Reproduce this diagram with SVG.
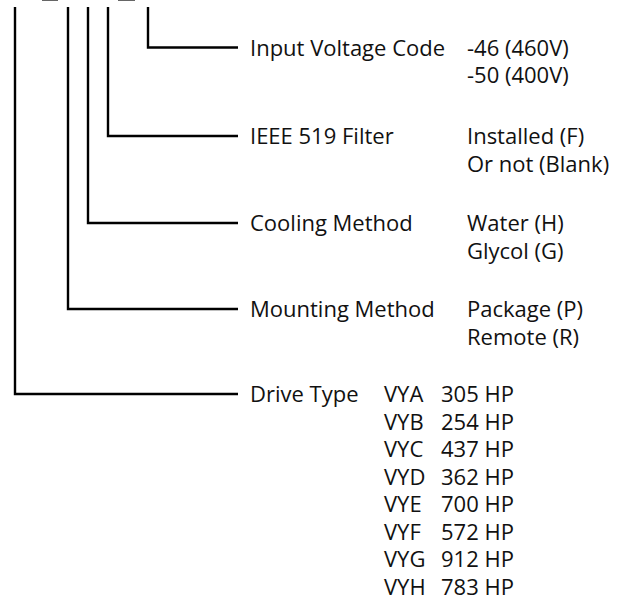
<svg xmlns="http://www.w3.org/2000/svg" width="629" height="607" viewBox="0 0 629 607">
<style>
.t{font-family:"Open Sans","Noto Sans","DejaVu Sans",sans-serif;font-size:22px;fill:#111}
.c{fill:none;stroke:#000;stroke-width:2.4;stroke-linecap:butt;stroke-linejoin:miter}
</style>
<rect width="629" height="607" fill="#fff"/>
<g id="top-marks" fill="#666">
<rect x="42" y="0" width="16" height="1"/>
<rect x="118" y="0" width="17" height="1"/>
</g>
<g id="connectors">
<path class="c" d="M148 7 V47.5 H238"/>
<path class="c" d="M108 7 V136 H238"/>
<path class="c" d="M88 7 V223 H238"/>
<path class="c" d="M68 7 V309 H238"/>
<path class="c" d="M15 7 V394 H238"/>
</g>
<g id="input-voltage">
<text class="t" x="250" y="55.5">Input Voltage Code</text>
<text class="t" x="467" y="55.5">-46 (460V)</text>
<text class="t" x="467" y="83">-50 (400V)</text>
</g>
<g id="ieee-filter">
<text class="t" x="250" y="144">IEEE 519 Filter</text>
<text class="t" x="467" y="144">Installed (F)</text>
<text class="t" x="467" y="171.5">Or not (Blank)</text>
</g>
<g id="cooling">
<text class="t" x="250" y="231">Cooling Method</text>
<text class="t" x="467" y="231">Water (H)</text>
<text class="t" x="467" y="258.5">Glycol (G)</text>
</g>
<g id="mounting">
<text class="t" x="250" y="317">Mounting Method</text>
<text class="t" x="467" y="317">Package (P)</text>
<text class="t" x="467" y="344.5">Remote (R)</text>
</g>
<g id="drive-type">
<text class="t" x="250" y="402">Drive Type</text>
<text class="t" x="384" y="402">VYA</text><text class="t" x="441" y="402">305 HP</text>
<text class="t" x="384" y="429.5">VYB</text><text class="t" x="441" y="429.5">254 HP</text>
<text class="t" x="384" y="457">VYC</text><text class="t" x="441" y="457">437 HP</text>
<text class="t" x="384" y="484.5">VYD</text><text class="t" x="441" y="484.5">362 HP</text>
<text class="t" x="384" y="512">VYE</text><text class="t" x="441" y="512">700 HP</text>
<text class="t" x="384" y="539.5">VYF</text><text class="t" x="441" y="539.5">572 HP</text>
<text class="t" x="384" y="567">VYG</text><text class="t" x="441" y="567">912 HP</text>
<text class="t" x="384" y="594.5">VYH</text><text class="t" x="441" y="594.5">783 HP</text>
</g>
</svg>
